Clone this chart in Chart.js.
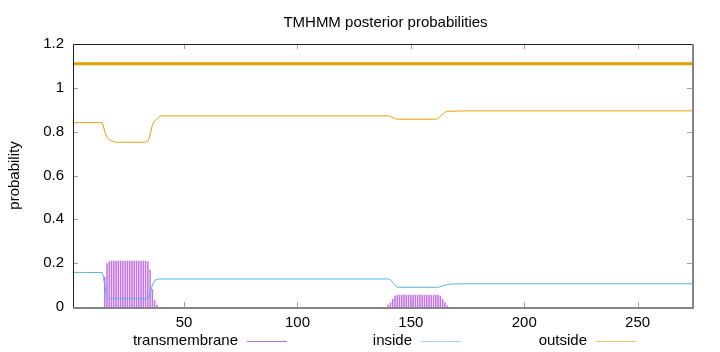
<!DOCTYPE html>
<html>
<head>
<meta charset="utf-8">
<script src="https://cdn.jsdelivr.net/npm/chart.js@4"></script>
<style>
  html, body { margin: 0; padding: 0; background: #fff; }
  canvas { display: block; }
</style>
</head>
<body>
<canvas id="tmhmm" width="720" height="352"></canvas>
<script>
// --- datos ---
const seriesNames = ['transmembrane', 'inside', 'outside'];
const xTicks = [50, 100, 150, 200, 250];
const yTicks = [0, 0.2, 0.4, 0.6, 0.8, 1, 1.2];

// posterior transmembrana (impulsos por residuo, solo donde no es ~0)
const tmResidues = [15, 16, 17, 18, 19, 20, 21, 22, 23, 24, 25, 26, 27, 28, 29, 30, 31, 32, 33, 34, 35, 36, 37, 38,
  140, 141, 142, 143, 144, 145, 146, 147, 148, 149, 150, 151, 152, 153, 154, 155, 156, 157, 158, 159, 160, 161, 162, 163, 164, 165, 166];
const tmValues = [0.137, 0.198, 0.207, 0.21, 0.21, 0.21, 0.21, 0.21, 0.21, 0.21, 0.21, 0.21, 0.21, 0.21, 0.21, 0.21, 0.21, 0.21, 0.21, 0.207, 0.17, 0.08, 0.03, 0.008,
  0.01, 0.02, 0.035, 0.05, 0.054, 0.054, 0.054, 0.054, 0.054, 0.054, 0.054, 0.054, 0.054, 0.054, 0.054, 0.054, 0.054, 0.054, 0.054, 0.054, 0.054, 0.054, 0.054, 0.05, 0.035, 0.02, 0.005];

// inside / outside: puntos de quiebre
const insideResidues = [1, 14, 15, 16, 17, 34, 35, 36, 37, 39, 140, 141, 143, 144, 162, 164, 167, 172, 274];
const insideValues = [0.158, 0.157, 0.10, 0.045, 0.038, 0.038, 0.06, 0.10, 0.122, 0.128, 0.128, 0.125, 0.10, 0.09, 0.09, 0.097, 0.104, 0.106, 0.106];

const outsideResidues = [1, 14, 15, 16, 17, 19, 20, 33, 34, 35, 36, 37, 39, 40, 140, 141, 143, 144, 161, 162, 163, 165, 166, 175, 274];
const outsideValues = [0.841, 0.841, 0.80, 0.775, 0.762, 0.754, 0.752, 0.752, 0.757, 0.785, 0.83, 0.85, 0.868, 0.872, 0.872, 0.869, 0.86, 0.857, 0.857, 0.86, 0.87, 0.888, 0.893, 0.895, 0.895];

// topología predicha (barra superior)
const topologyStart = [1];
const topologyEnd = [274];
const topologyLevel = [1.11];

const seqLength = 274;

const colors = { transmembrane: '#9400d3', inside: '#56b4e9', outside: '#e69f00' };
const fontFamily = '"Liberation Sans", Arial, Helvetica, sans-serif';

function toPoints(xs, ys) {
  return xs.map((x, i) => ({ x: x, y: ys[i] }));
}

const topologyPoints = [];
topologyStart.forEach((s, i) => {
  topologyPoints.push({ x: s, y: topologyLevel[i] }, { x: topologyEnd[i], y: topologyLevel[i] });
});

// --- bordes, marcas internas, título y leyenda al estilo gnuplot ---
const gnuplotFrame = {
  id: 'gnuplotFrame',
  afterDatasetsDraw(chart) {
    const { ctx, chartArea: a, scales } = chart;
    ctx.save();
    // marcas hacia adentro en los cuatro lados
    ctx.strokeStyle = '#a0a0a0';
    ctx.lineWidth = 1;
    ctx.beginPath();
    xTicks.forEach(v => {
      const px = Math.round(scales.x.getPixelForValue(v)) + 0.5;
      ctx.moveTo(px, a.bottom); ctx.lineTo(px, a.bottom - 5);
      ctx.moveTo(px, a.top); ctx.lineTo(px, a.top + 5);
    });
    yTicks.forEach(v => {
      const py = Math.round(scales.y.getPixelForValue(v)) + 0.5;
      ctx.moveTo(a.left, py); ctx.lineTo(a.left + 5, py);
      ctx.moveTo(a.right, py); ctx.lineTo(a.right - 5, py);
    });
    ctx.stroke();

    // borde: izquierda y arriba negro, derecha y abajo gris
    ctx.strokeStyle = '#202020';
    ctx.beginPath();
    ctx.moveTo(a.left + 0.5, a.bottom); ctx.lineTo(a.left + 0.5, a.top + 0.5); ctx.lineTo(a.right, a.top + 0.5);
    ctx.stroke();
    ctx.strokeStyle = '#858585';
    ctx.lineWidth = 2;
    ctx.beginPath();
    ctx.moveTo(a.right + 1, a.top); ctx.lineTo(a.right + 1, a.bottom + 1); ctx.lineTo(a.left, a.bottom + 1);
    ctx.stroke();
    ctx.restore();
  },
  afterDraw(chart) {
    const { ctx, chartArea: a } = chart;
    ctx.save();
    ctx.fillStyle = '#000';
    ctx.font = '15px ' + fontFamily;
    ctx.textAlign = 'center';
    ctx.textBaseline = 'alphabetic';
    ctx.fillText('TMHMM posterior probabilities', (a.left + a.right) / 2 + 3, 27);

    // etiqueta del eje y
    ctx.save();
    ctx.translate(19, (a.top + a.bottom) / 2);
    ctx.rotate(-Math.PI / 2);
    ctx.textBaseline = 'alphabetic';
    ctx.fillText('probability', 0, 0);
    ctx.restore();

    // leyenda en una fila debajo del eje
    const textRight = [238, 412, 587];
    ctx.textAlign = 'right';
    ctx.textBaseline = 'middle';
    seriesNames.forEach((name, i) => {
      ctx.fillStyle = '#000';
      ctx.fillText(name, textRight[i], 341);
      ctx.strokeStyle = colors[name];
      ctx.globalAlpha = 0.6;
      ctx.lineWidth = 1;
      ctx.beginPath();
      ctx.moveTo(textRight[i] + 9, 341.5);
      ctx.lineTo(textRight[i] + 49, 341.5);
      ctx.stroke();
      ctx.globalAlpha = 1;
    });
    ctx.restore();
  }
};

new Chart(document.getElementById('tmhmm'), {
  type: 'bar',
  data: {
    datasets: [
      {
        type: 'line',
        label: 'topology',
        data: topologyPoints,
        borderColor: colors.outside,
        borderWidth: 3,
        pointRadius: 0,
        fill: false,
        order: 0
      },
      {
        type: 'line',
        label: seriesNames[2],
        data: toPoints(outsideResidues, outsideValues),
        borderColor: colors.outside,
        borderWidth: 1,
        pointRadius: 0,
        tension: 0,
        fill: false,
        order: 1
      },
      {
        type: 'line',
        label: seriesNames[1],
        data: toPoints(insideResidues, insideValues),
        borderColor: colors.inside,
        borderWidth: 1,
        pointRadius: 0,
        tension: 0,
        fill: false,
        order: 2
      },
      {
        type: 'bar',
        label: seriesNames[0],
        data: toPoints(tmResidues, tmValues),
        backgroundColor: 'rgba(148, 0, 211, 0.55)',
        borderWidth: 0,
        barThickness: 0.9,
        order: 3
      }
    ]
  },
  options: {
    responsive: false,
    animation: false,
    devicePixelRatio: 1,
    layout: { padding: { top: 44, left: 0, right: 28, bottom: 0 } },
    plugins: {
      legend: { display: false },
      title: { display: false },
      tooltip: { enabled: false }
    },
    scales: {
      x: {
        type: 'linear',
        min: 1,
        max: seqLength,
        offset: false,
        grid: { display: false, drawTicks: false },
        border: { display: false },
        afterBuildTicks: s => { s.ticks = xTicks.map(v => ({ value: v })); },
        afterFit: s => { s.height = 45; },
        ticks: {
          color: '#000',
          padding: 7,
          maxRotation: 0,
          font: { family: fontFamily, size: 15 }
        }
      },
      y: {
        min: 0,
        max: 1.2,
        grid: { display: false, drawTicks: false },
        border: { display: false },
        afterBuildTicks: s => { s.ticks = yTicks.map(v => ({ value: v })); },
        afterFit: s => { s.width = 73; },
        ticks: {
          color: '#000',
          padding: 9,
          font: { family: fontFamily, size: 15 },
          callback: v => String(Math.round(v * 10) / 10)
        }
      }
    }
  },
  plugins: [gnuplotFrame]
});
</script>
</body>
</html>
